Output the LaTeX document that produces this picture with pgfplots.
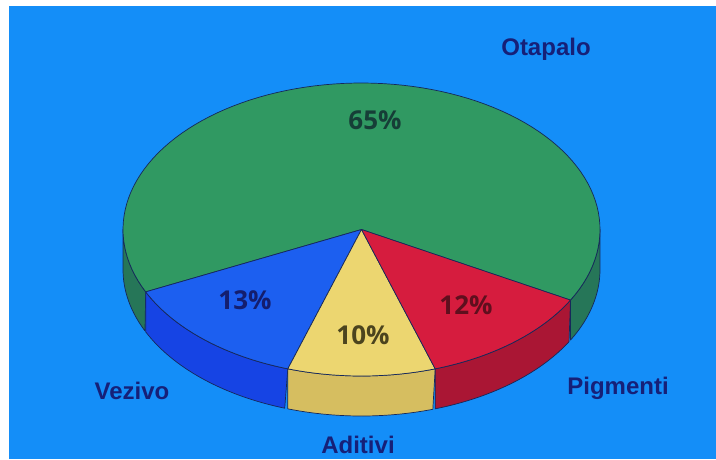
\documentclass[border=0pt]{standalone}
\usepackage{pgfplots}
\pgfplotsset{compat=1.18}
\usepackage{fontspec}
\setmainfont{Liberation Sans}
\newfontfamily\pctfont{Open Sans}
\definecolor{bg}{RGB}{20,142,248}
\definecolor{gtop}{RGB}{48,153,98}
\definecolor{gside}{RGB}{38,118,88}
\definecolor{btop}{RGB}{28,95,240}
\definecolor{bside}{RGB}{22,68,228}
\definecolor{ytop}{RGB}{236,214,112}
\definecolor{yside}{RGB}{214,190,96}
\definecolor{rtop}{RGB}{214,28,62}
\definecolor{rside}{RGB}{170,22,52}
\definecolor{edge}{RGB}{22,40,90}
\definecolor{lab}{RGB}{22,32,120}
% shares (percent)
\def\pV{13}\def\pA{10}\def\pP{12}\def\pO{65}
% geometry of the tilted pie (pixels)
\def\cx{361.5}\def\cy{229.5}\def\rx{238.5}\def\ry{146.5}\def\dd{40}
\pgfmathsetmacro\aA{205.2}
\pgfmathsetmacro\aB{\aA+3.6*\pV}
\pgfmathsetmacro\aC{\aB+3.6*\pA}
\pgfmathsetmacro\aD{\aC+3.6*\pP}
\pgfmathsetmacro\aE{\aD+3.6*\pO}
\newcommand\wall[3]{%
  \addplot[fill=#3, draw=edge, domain=#1:2*#2-#1, samples=121, variable=\t]
   ({\cx+\rx*cos(\t<=#2 ? \t : 2*#2-\t)},
    {\cy-\ry*sin(\t<=#2 ? \t : 2*#2-\t)+(\t<=#2 ? 0 : \dd)}) -- cycle;}
\newcommand\slice[3]{%
  \addplot[fill=#3, draw=edge, domain=#1:#2, samples=100, variable=\t]
   ({\cx+\rx*cos(\t)},{\cy-\ry*sin(\t)}) -- (axis cs:\cx,\cy) -- cycle;}
\begin{document}
\begin{tikzpicture}
\begin{axis}[
  width=716pt, height=459pt, scale only axis,
  xmin=0, xmax=716, ymin=0, ymax=459, y dir=reverse,
  axis lines=none, ticks=none, clip=true,
  every axis plot/.append style={line width=0.7pt, line join=round},
]
\fill[white] (axis cs:0,0) rectangle (axis cs:716,459);
\fill[bg] (axis cs:9,6) rectangle (axis cs:716,459);
% side walls
\wall{180}{\aA}{gside}
\wall{\aA}{\aB}{bside}
\wall{\aB}{\aC}{yside}
\wall{\aC}{\aD}{rside}
\wall{\aD}{360}{gside}
% top faces
\slice{\aD}{\aE}{gtop}
\slice{\aA}{\aB}{btop}
\slice{\aB}{\aC}{ytop}
\slice{\aC}{\aD}{rtop}
% labels
\node[font=\bfseries\fontsize{24}{24}\selectfont, text=lab] at (axis cs:546,49) {Otapalo};
\node[font=\bfseries\fontsize{24}{24}\selectfont, text=lab] at (axis cs:132,391) {Vezivo};
\node[font=\bfseries\fontsize{24}{24}\selectfont, text=lab, anchor=base] at (axis cs:618,394) {Pigmenti};
\node[font=\bfseries\fontsize{24}{24}\selectfont, text=lab] at (axis cs:358,445) {Aditivi};
\node[font=\pctfont\bfseries\fontsize{26}{26}\selectfont, text={rgb,255:red,22;green,62;blue,55}] at (axis cs:375,120) {65\%};
\node[font=\pctfont\bfseries\fontsize{26}{26}\selectfont, text={rgb,255:red,20;green,30;blue,110}] at (axis cs:245,300) {13\%};
\node[font=\pctfont\bfseries\fontsize{26}{26}\selectfont, text={rgb,255:red,75;green,68;blue,30}] at (axis cs:363,335) {10\%};
\node[font=\pctfont\bfseries\fontsize{26}{26}\selectfont, text={rgb,255:red,95;green,15;blue,30}] at (axis cs:466,305) {12\%};
\end{axis}
\end{tikzpicture}
\end{document}
